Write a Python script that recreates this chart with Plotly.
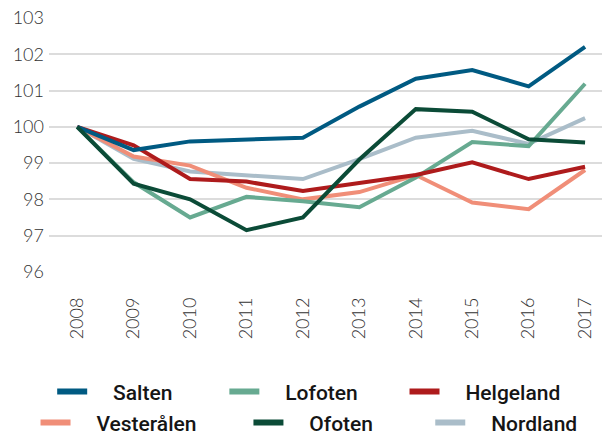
import plotly.graph_objects as go

years = ["2008", "2009", "2010", "2011", "2012", "2013", "2014", "2015", "2016", "2017"]

salten = [100, 99.36, 99.60, 99.66, 99.70, 100.56, 101.33, 101.57, 101.12, 102.21]
lofoten = [100, 98.47, 97.50, 98.07, 97.95, 97.78, 98.60, 99.58, 99.47, 101.19]
helgeland = [100, 99.49, 98.56, 98.49, 98.23, 98.46, 98.67, 99.02, 98.56, 98.90]
vesteralen = [100, 99.18, 98.93, 98.32, 98.00, 98.20, 98.67, 97.91, 97.73, 98.81]
ofoten = [100, 98.43, 98.00, 97.15, 97.50, 99.10, 100.49, 100.42, 99.66, 99.57]
nordland = [100, 99.12, 98.77, 98.66, 98.56, 99.11, 99.70, 99.89, 99.53, 100.24]

y_ticks = [96, 97, 98, 99, 100, 101, 102, 103]

series = [
    ("Salten", salten, "#005a82", "legend", 9),
    ("Lofoten", lofoten, "#67aa91", "legend", 8),
    ("Helgeland", helgeland, "#ae1b1c", "legend", 0),
    ("Vesterålen", vesteralen, "#f08e78", "legend2", 9),
    ("Ofoten", ofoten, "#0b4b37", "legend2", 10),
    ("Nordland", nordland, "#aabdc9", "legend2", 0),
]

draw_order = ["Nordland", "Vesterålen", "Lofoten", "Helgeland", "Salten", "Ofoten"]

fig = go.Figure()
lookup = {s[0]: s for s in series}
for nm in draw_order:
    name, vals, col, lg, _ = lookup[nm]
    fig.add_trace(go.Scatter(
        x=years, y=vals, mode="lines", name=name,
        line=dict(color=col, width=4), showlegend=False,
    ))

NB = "\u00a0"
for name, vals, col, lg, trail in series:
    fig.add_trace(go.Scatter(
        x=[None], y=[None], mode="lines",
        name=NB * 4 + name + NB * trail,
        line=dict(color=col, width=6), legend=lg, showlegend=True,
    ))

legend_common = dict(
    orientation="h", xanchor="center", yanchor="middle",
    font=dict(family="Roboto", size=21, color="#151515", weight=500),
    bgcolor="rgba(0,0,0,0)", itemclick=False, itemdoubleclick=False,
    tracegroupgap=0,
)

tick_font = dict(family="Lato", size=18, color="#333333", weight=300)

fig.update_layout(
    width=602, height=437,
    margin=dict(l=49, r=0, t=18, b=165, autoexpand=False),
    plot_bgcolor="white", paper_bgcolor="white",
    xaxis=dict(
        type="category", range=[-0.5, 9.3], automargin=False,
        showgrid=False, zeroline=False, showline=False,
        tickangle=-90, ticks="",
        tickfont=tick_font,
        ticklabelstandoff=21,
    ),
    yaxis=dict(
        range=[95.995, 103.005], tickvals=y_ticks, automargin=False,
        showgrid=True, gridcolor="#dcdcdc", gridwidth=1.5,
        zeroline=False, showline=False, ticks="",
        tickfont=tick_font, ticklabeloverflow="allow",
        ticklabelstandoff=4,
    ),
    legend=dict(x=0.4705, y=-0.472, **legend_common),
    legend2=dict(x=0.4702, y=-0.594, **legend_common),
)

# remove the page's default body margin so the figure sits at the window's corner
fig.write_html(
    "out.html",
    config={"displayModeBar": False},
    post_script="document.body.style.margin='0';",
)
